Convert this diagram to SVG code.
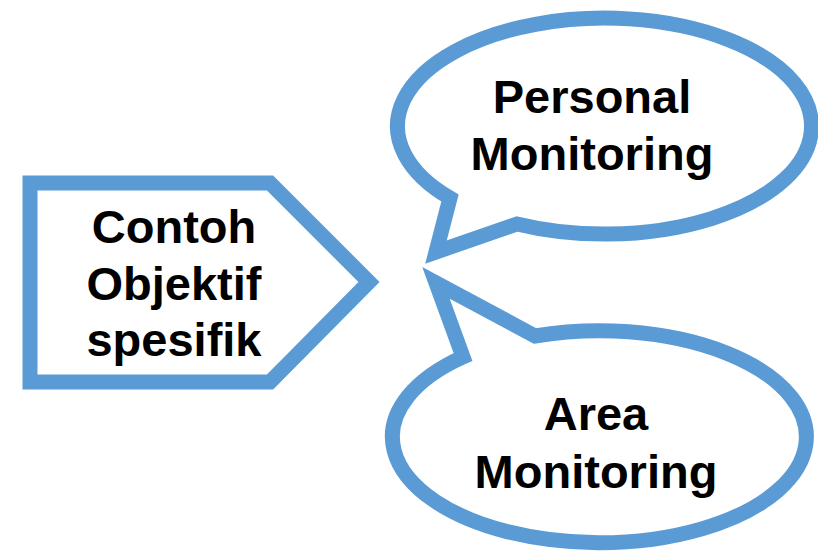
<svg xmlns="http://www.w3.org/2000/svg" width="818" height="553" viewBox="0 0 818 553">
<style>
.shape{fill:#fff;stroke:#5B9BD5;stroke-width:15;stroke-linejoin:miter;stroke-miterlimit:10}
.t{font-family:"Liberation Sans",Arial,sans-serif;font-weight:bold;font-size:47px;fill:#000;text-anchor:middle}
</style>
<rect width="818" height="553" fill="#fff"/>
<g id="connectors"></g>
<g id="contoh">
<path class="shape" d="M30,183 L270,183 L369,282 L270,382 L30,382 Z"/>
<text class="t" x="174" y="243">Contoh</text>
<text class="t" x="174" y="300">Objektif</text>
<text class="t" x="174" y="356">spesifik</text>
</g>
<g id="personal">
<path class="shape" d="M450,198 A207,108 0 1 1 517,224 L436,252 Z"/>
<text class="t" x="592" y="113">Personal</text>
<text class="t" x="592" y="170">Monitoring</text>
</g>
<g id="area">
<path class="shape" d="M535,336 A207,106 0 1 1 463,357 L436,283 Z"/>
<text class="t" x="596" y="430">Area</text>
<text class="t" x="596" y="488">Monitoring</text>
</g>
</svg>
